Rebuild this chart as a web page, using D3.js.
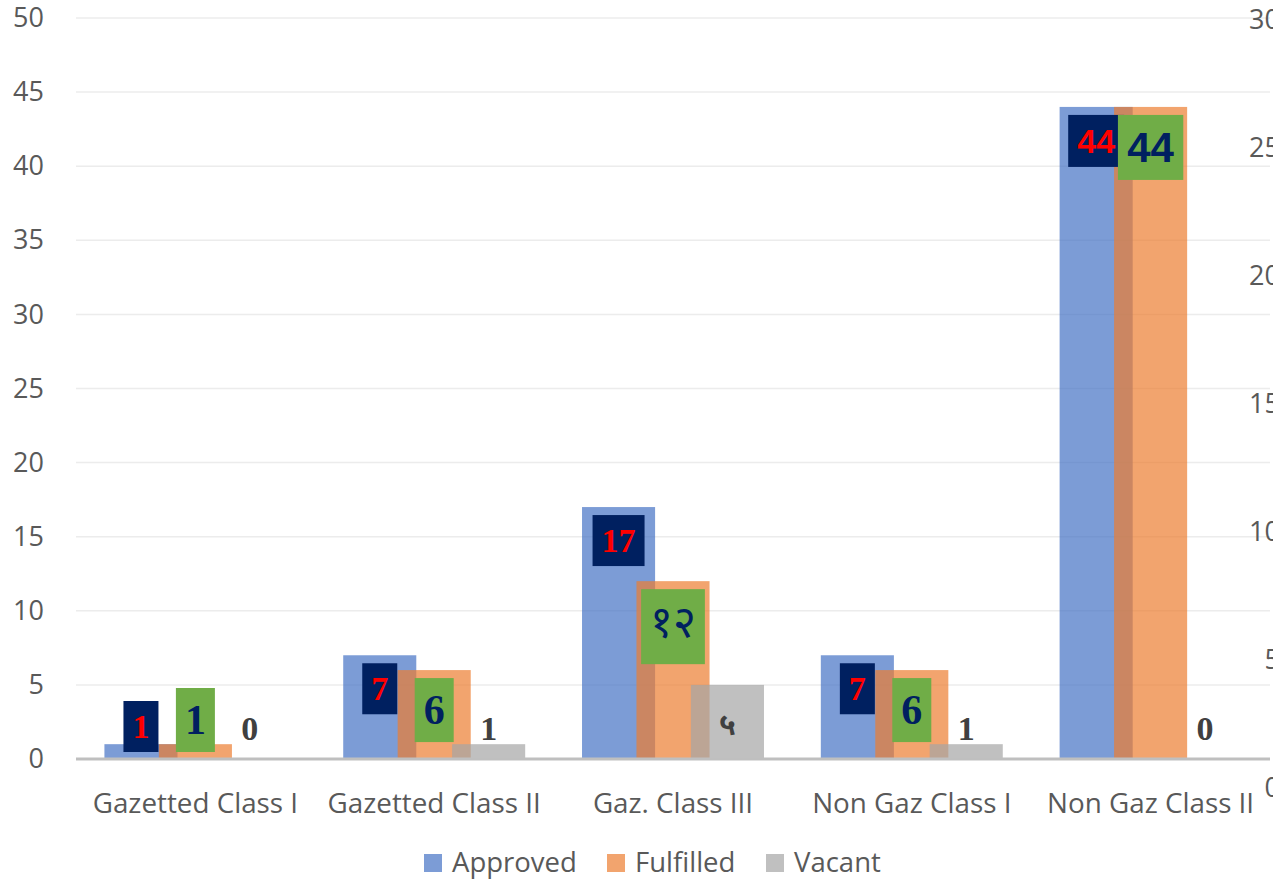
<!DOCTYPE html>
<html>
<head>
<meta charset="utf-8">
<script src="https://cdn.jsdelivr.net/npm/d3@7"></script>
<style>
  html, body { margin: 0; padding: 0; background: #fff; overflow: hidden; }
  svg { display: block; }
</style>
</head>
<body>
<svg id="chart" width="1273" height="881"></svg>
<script>
const categories = ["Gazetted Class I", "Gazetted Class II", "Gaz. Class III", "Non Gaz Class I", "Non Gaz Class II"];
const seriesNames = ["Approved", "Fulfilled", "Vacant"];
const approved = [1, 7, 17, 7, 44];
const fulfilled = [1, 6, 12, 6, 44];
const vacant = [0, 1, 5, 1, 0];
const approvedLabels = ["1", "7", "17", "7", "44"];
const fulfilledLabels = ["1", "6", "१२", "6", "44"];
const vacantLabels = ["0", "1", "५", "1", "0"];
const leftTicks = [0, 5, 10, 15, 20, 25, 30, 35, 40, 45, 50];
const rightTicks = [0, 5, 10, 15, 20, 25, 30];

const colors = { Approved: "#4472C4", Fulfilled: "#ED7D31", Vacant: "#A5A5A5" };
const seriesValues = { Approved: approved, Fulfilled: fulfilled, Vacant: vacant };

const svg = d3.select("#chart");
const plotL = 76, plotR = 1270, plotT = 18, plotB = 759;

const x0 = d3.scaleBand().domain(categories).range([plotL, plotR]).padding(0);
const y = d3.scaleLinear().domain([0, 50]).range([plotB, plotT]);
const yR = d3.scaleLinear().domain([0, 30]).range([788, 20]);
const step = x0.bandwidth() * 0.228;
const barW = x0.bandwidth() * 0.306;
const xs = d3.scalePoint().domain(seriesNames).range([-step, step]);

const axisFont = "'Open Sans', 'Liberation Sans', sans-serif";
const axisColor = "#595959";

// gridlines
svg.append("g").selectAll("line").data(leftTicks.filter(t => t > 0)).join("line")
  .attr("x1", plotL).attr("x2", plotR)
  .attr("y1", d => y(d)).attr("y2", d => y(d))
  .attr("stroke", "#ececec").attr("stroke-width", 1.5);

// left axis labels
const leftAxis = d3.axisLeft(y).tickValues(leftTicks).tickSize(0).tickPadding(0);
const gl = svg.append("g").attr("transform", `translate(44,0)`).call(leftAxis);
gl.select(".domain").remove();
gl.selectAll("text").attr("font-family", axisFont).attr("font-size", 27).attr("fill", axisColor);

// right axis labels
const rightAxis = d3.axisRight(yR).tickValues(rightTicks).tickSize(0).tickPadding(0);
const gr = svg.append("g").attr("transform", `translate(1280,0)`).call(rightAxis);
gr.select(".domain").remove();
gr.selectAll("text").attr("font-family", axisFont).attr("font-size", 27).attr("fill", axisColor)
  .attr("text-anchor", "end");

// bars
seriesNames.forEach(s => {
  svg.append("g").selectAll("rect").data(categories.map((c, i) => ({ c, v: seriesValues[s][i] }))).join("rect")
    .attr("x", d => x0(d.c) + x0.bandwidth() / 2 + xs(s) - barW / 2)
    .attr("width", barW)
    .attr("y", d => y(d.v))
    .attr("height", d => y(0) - y(d.v))
    .attr("fill", colors[s]).attr("fill-opacity", 0.7);
});

// x axis line
svg.append("line").attr("x1", plotL).attr("x2", plotR).attr("y1", plotB).attr("y2", plotB)
  .attr("stroke", "#bfbfbf").attr("stroke-width", 3);

// category labels
const bottomAxis = d3.axisBottom(x0).tickSize(0).tickPadding(0);
const gb = svg.append("g").attr("transform", `translate(0,793)`).call(bottomAxis);
gb.select(".domain").remove();
gb.selectAll("text").attr("font-family", axisFont).attr("font-size", 27.8).attr("fill", axisColor).attr("dy", "0.71em");

// data labels
const serif = "'Liberation Serif', 'DejaVu Serif', serif";
const sansBold = "'Liberation Sans', Arial, sans-serif";
const deva = "'Noto Sans Devanagari', 'Lohit Devanagari', 'Noto Sans', sans-serif";
const isDeva = t => /[\u0900-\u097F]/.test(t);
const labelsG = svg.append("g");

function boxedLabel(s, labels, fontSize, devaSize, padY, boxFill, textFill, vals) {
  categories.forEach((c, i) => {
    const cx = x0(c) + x0.bandwidth() / 2 + xs(s);
    const t = labels[i];
    const fam = isDeva(t) ? deva : (c === "Non Gaz Class II" ? sansBold : serif);
    const g = labelsG.append("g");
    const rect = g.append("rect").attr("fill", boxFill);
    const txt = g.append("text").text(t)
      .attr("font-family", fam).attr("font-weight", isDeva(t) ? "normal" : "bold")
      .attr("font-size", isDeva(t) ? devaSize : fontSize)
      .attr("fill", textFill).attr("text-anchor", "middle").attr("x", cx).attr("y", 0);
    const bb = txt.node().getBBox();
    const padX = 9;
    const bw = bb.width + padX * 2, bh = bb.height + padY * 2;
    let top = y(vals[i]) + 8;
    if (top + bh > plotB - 7) top = plotB - 7 - bh;
    rect.attr("x", cx - bw / 2).attr("y", top).attr("width", bw).attr("height", bh);
    txt.attr("y", top + padY - bb.y);
  });
}
boxedLabel("Approved", approvedLabels, 34, 34, 7, "#002060", "#FF0000", approved);
boxedLabel("Fulfilled", fulfilledLabels, 42, 44, 9, "#70AD47", "#002060", fulfilled);

categories.forEach((c, i) => {
  const cx = x0(c) + x0.bandwidth() / 2 + xs("Vacant");
  const t = vacantLabels[i];
  labelsG.append("text").text(t)
    .attr("x", cx).attr("y", isDeva(t) ? plotB - 24 : plotB - 19)
    .attr("font-family", isDeva(t) ? deva : serif)
    .attr("font-weight", "bold")
    .attr("font-size", isDeva(t) ? 30 : 34)
    .attr("fill", "#404040").attr("text-anchor", "middle");
});

// legend
const legendX = [424, 607, 766];
const lg = svg.append("g");
seriesNames.forEach((s, i) => {
  lg.append("rect").attr("x", legendX[i]).attr("y", 854).attr("width", 18).attr("height", 18)
    .attr("fill", colors[s]).attr("fill-opacity", 0.7);
  lg.append("text").text(s).attr("x", legendX[i] + 28).attr("y", 872)
    .attr("font-family", axisFont).attr("font-size", 27.5).attr("fill", axisColor);
});
</script>
</body>
</html>
